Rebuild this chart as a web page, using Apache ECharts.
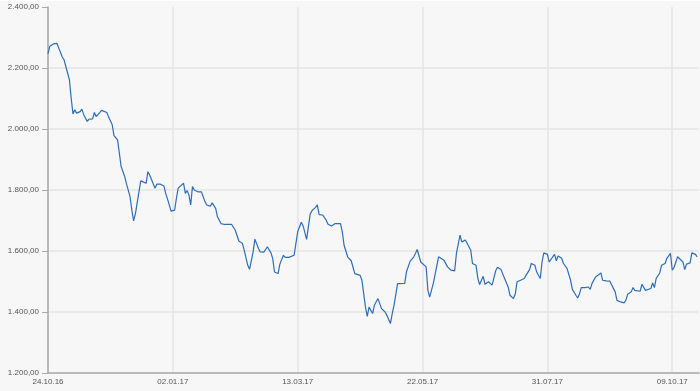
<!DOCTYPE html>
<html>
<head>
<meta charset="utf-8">
<script src="https://cdn.jsdelivr.net/npm/echarts@6/dist/echarts.min.js"></script>
<style>
html,body{margin:0;padding:0;background:#ffffff;}
#chart{position:absolute;left:0;top:1px;width:700px;height:390px;background:#f7f7f7;}
</style>
</head>
<body>
<div id="chart"></div>
<script>
// days since 24.10.2016
const dayOffsets = [0,1,3,4,5,6,8,9,10,12,13,14,15,16,18,19,20,22,23,25,26,27,29,30,31,33,34,36,37,39,40,41,43,44,46,47,48,
49,50,52,53,55,56,57,58,60,61,63,65,66,68,69,71,72,73,74,76,77,78,79,80,81,82,84,86,87,88,89,91,92,94,95,97,99,103,104,
105,107,109,110,112,113,115,116,118,119,121,123,125,126,127,129,130,132,133,135,136,138,139,140,142,143,144,145,147,148,150,151,152,154,
156,157,159,161,162,164,165,166,168,169,170,172,173,175,176,177,178,179,180,182,183,185,186,187,189,190,192,193,194,196,197,200,
201,203,205,206,207,209,210,212,213,214,216,217,219,220,222,224,226,228,229,231,232,234,235,237,238,240,241,242,244,245,247,248,249,251,
252,254,255,256,258,259,261,262,263,265,267,268,270,271,273,274,276,277,278,280,281,283,284,285,286,288,289,291,292,293,294,296,297,298,299,301,303,304,
305,307,308,310,311,313,315,316,318,319,320,321,323,324,325,327,328,329,330,332,333,335,336,338,339,340,341,343,344,346,347,349,350,351,353,354,356,357,358,360,361,363,364];
const prices = [2247,2271,2279,2276,2281,2266,2236,2227,2205,2162,2101,2049,2063,2052,2057,2065,2047,2025,2032,2033,2054,2041,2054,2061,2062,2054,2039,2014,1978,1964,1921,1877,1844,1820,1778,1734,1699,
1722,1758,1830,1825,1822,1860,1849,1853,1806,1819,1819,1813,1789,1751,1731,1734,1773,1806,1811,1822,1789,1798,1784,1751,1811,1800,1794,1794,1800,1762,1751,1747,1758,1740,1712,1690,1687,1687,1688,
1668,1633,1625,1603,1553,1540,1597,1639,1608,1597,1596,1614,1594,1575,1531,1526,1557,1586,1579,1579,1575,1586,1625,1663,1694,1683,1679,1638,1721,1732,1743,1751,1719,1718,
1701,1688,1682,1690,1696,1690,1663,1619,1581,1586,1568,1526,1523,1520,1504,1460,1416,1386,1416,1395,1422,1444,1439,1411,1400,1389,1362,1395,1422,1493,1495,1494,
1532,1566,1580,1592,1605,1564,1564,1548,1471,1449,1493,1495,1581,1586,1570,1548,1537,1535,1592,1652,1630,1636,1630,1603,1559,1553,1510,1490,1517,1491,1499,1501,1488,1535,
1547,1539,1537,1510,1482,1455,1444,1460,1499,1504,1510,1520,1539,1559,1553,1531,1510,1564,1594,1589,1564,1581,1589,1568,1584,1576,1559,1543,1539,1504,1474,1455,1446,1460,1480,1480,1482,1474,
1493,1515,1517,1528,1504,1502,1501,1497,1466,1438,1436,1433,1430,1438,1458,1466,1480,1471,1477,1468,1491,1471,1469,1477,1495,1480,1510,1528,1553,1559,1576,1592,1537,1546,1581,1584,1564,1539,1557,1561,1594,1589,1581];
const xTickLabels = ['24.10.16','02.01.17','13.03.17','22.05.17','31.07.17','09.10.17'];
const yTicks = [1200,1400,1600,1800,2000,2200,2400];

const seriesData = dayOffsets.map((d,i)=>[d, prices[i]]);
function fmtDE(v){
  const s = v.toFixed(2).split('.');
  return s[0].replace(/\B(?=(\d{3})+(?!\d))/g,'.') + ',' + s[1];
}
const chart = echarts.init(document.getElementById('chart'), null, {renderer:'canvas'});
chart.setOption({
  backgroundColor:'#f7f7f7',
  animation:false,
  grid:{left:48, right:1, top:6, bottom:18, containLabel:false},
  xAxis:{
    type:'value', min:0, max:365, interval:70,
    axisLine:{show:true, lineStyle:{color:'#a9a9a9', width:1.5}},
    axisTick:{show:false},
    axisLabel:{margin:5, fontSize:8, color:'#555', fontFamily:'Liberation Sans, Arial, sans-serif',
      showMaxLabel:false,
      formatter:function(v){ return (v%70===0) ? (xTickLabels[v/70]||'') : ''; }},
    splitLine:{show:true, showMaxLine:false, lineStyle:{color:'#e4e4e4', width:1.5}}
  },
  yAxis:{
    type:'value', min:yTicks[0], max:yTicks[yTicks.length-1], interval:200,
    axisLine:{show:true, lineStyle:{color:'#a9a9a9', width:1.5}},
    axisTick:{show:true, length:6, lineStyle:{color:'#a9a9a9', width:1}},
    axisLabel:{margin:9, fontSize:8, color:'#555', fontFamily:'Liberation Sans, Arial, sans-serif',
      formatter:function(v){ return fmtDE(v); }},
    splitLine:{show:true, showMaxLine:false, lineStyle:{color:'#e4e4e4', width:1.5}}
  },
  series:[{
    type:'line', data:seriesData, showSymbol:false, symbol:'none',
    lineStyle:{color:'#2e6db5', width:1.2}, smooth:false
  }]
});
</script>
</body>
</html>
